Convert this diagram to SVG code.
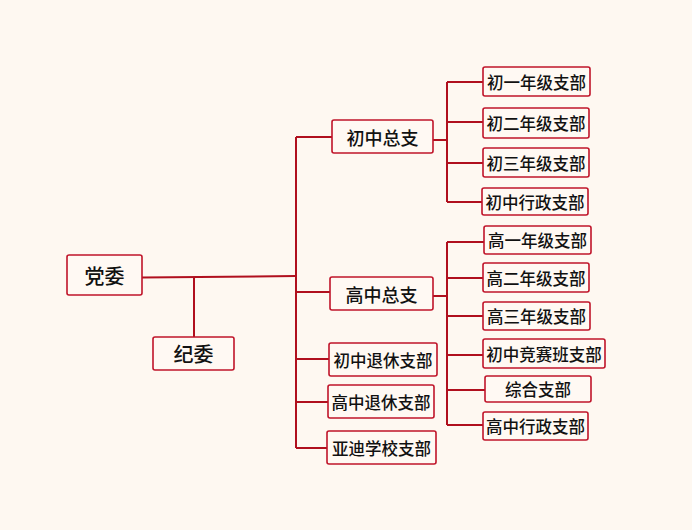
<svg xmlns="http://www.w3.org/2000/svg" width="692" height="530" viewBox="0 0 692 530">
<style>
.bg{fill:#FEF8F1}
.box{fill:#FFF9F3;stroke:#C0142A;stroke-width:1.6}
.ln{stroke:#B0101E;stroke-width:2;fill:none}
text{font-family:"Noto Sans CJK SC","Noto Sans CJK JP",sans-serif;fill:#111;text-anchor:middle;dominant-baseline:central;font-weight:500}
.l{font-size:20px}
.m{font-size:18px}
.s{font-size:16.5px}
</style>
<rect class="bg" x="0" y="0" width="692" height="530"/>
<g id="connectors">
<path class="ln" d="M142 277.5 L296 276"/>
<path class="ln" d="M194 277 V337"/>
<path class="ln" d="M296 137 V448"/>
<path class="ln" d="M296 137 H332 M296 292 H330 M296 359 H329 M296 402 H328 M296 448 H327"/>
<path class="ln" d="M433 140 H447 M447 82 V202 M447 82 H483 M447 122 H483 M447 163 H483 M447 202 H482"/>
<path class="ln" d="M433 296 H447 M447 242 V425 M447 242 H484 M447 278 H483 M447 316 H483 M447 355 H483 M447 390 H485 M447 425 H483"/>
</g>
<g id="n-dangwei"><rect class="box" x="67" y="255" width="75" height="40" rx="2"/><text class="l" x="104.5" y="275">党委</text></g>
<g id="n-jiwei"><rect class="box" x="153" y="337" width="81" height="33" rx="2"/><text class="l" x="193.5" y="353.5">纪委</text></g>
<g id="n-czzz"><rect class="box" x="332" y="120" width="101" height="33" rx="2"/><text class="m" x="382.5" y="136.5">初中总支</text></g>
<g id="n-gzzz"><rect class="box" x="330" y="277" width="103" height="33" rx="2"/><text class="m" x="381.5" y="293.5">高中总支</text></g>
<g id="n-cztx"><rect class="box" x="329" y="343" width="108" height="33" rx="2"/><text class="s" x="383" y="359.5">初中退休支部</text></g>
<g id="n-gztx"><rect class="box" x="328" y="385" width="106" height="33" rx="2"/><text class="s" x="381" y="401.5">高中退休支部</text></g>
<g id="n-ydxx"><rect class="box" x="327" y="431" width="109" height="33" rx="2"/><text class="s" x="381.5" y="447.5">亚迪学校支部</text></g>
<g id="n-c1"><rect class="box" x="483" y="67" width="107" height="29" rx="2"/><text class="s" x="536.5" y="81.5">初一年级支部</text></g>
<g id="n-c2"><rect class="box" x="483" y="108" width="106" height="30" rx="2"/><text class="s" x="536" y="123">初二年级支部</text></g>
<g id="n-c3"><rect class="box" x="483" y="148" width="106" height="29" rx="2"/><text class="s" x="536" y="162.5">初三年级支部</text></g>
<g id="n-czxz"><rect class="box" x="482" y="188" width="106" height="27" rx="2"/><text class="s" x="535" y="201.5">初中行政支部</text></g>
<g id="n-g1"><rect class="box" x="484" y="226" width="107" height="28" rx="2"/><text class="s" x="537.5" y="240">高一年级支部</text></g>
<g id="n-g2"><rect class="box" x="483" y="263" width="106" height="29" rx="2"/><text class="s" x="536" y="277.5">高二年级支部</text></g>
<g id="n-g3"><rect class="box" x="483" y="302" width="107" height="28" rx="2"/><text class="s" x="536.5" y="316">高三年级支部</text></g>
<g id="n-jsb"><rect class="box" x="483" y="339" width="122" height="29" rx="2"/><text class="s" x="544" y="353.5">初中竞赛班支部</text></g>
<g id="n-zh"><rect class="box" x="485" y="376" width="106" height="26" rx="2"/><text class="s" x="538" y="389">综合支部</text></g>
<g id="n-gzxz"><rect class="box" x="483" y="412" width="105" height="28" rx="2"/><text class="s" x="535.5" y="426">高中行政支部</text></g>
</svg>
